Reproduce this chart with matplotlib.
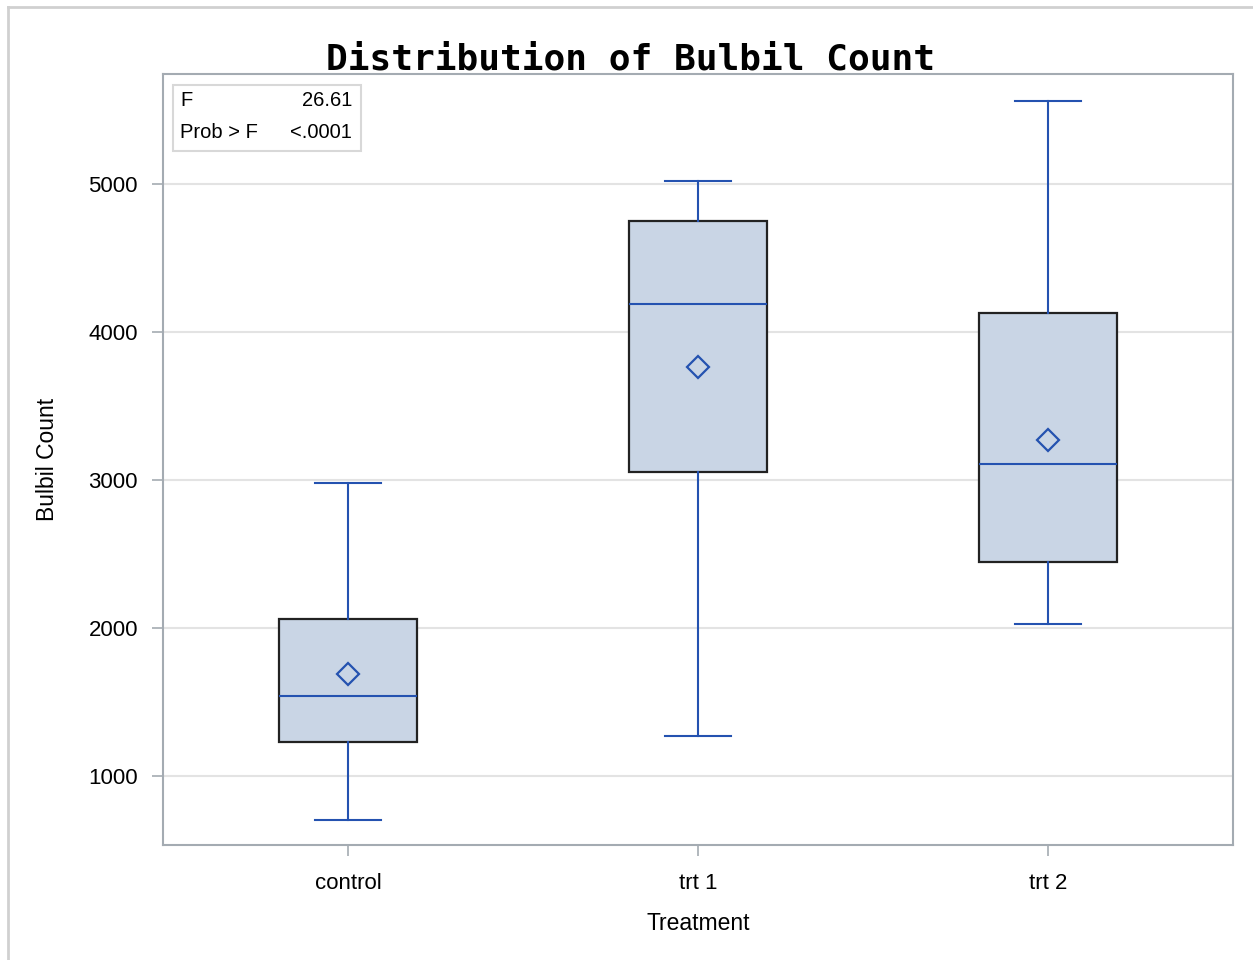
import matplotlib
matplotlib.use('Agg')
import matplotlib.pyplot as plt
from matplotlib.lines import Line2D
from matplotlib.patches import Rectangle

# summary statistics per treatment group
groups = ['control', 'trt 1', 'trt 2']
whislo = [703, 1270, 2027]
q1 = [1230, 3054, 2446]
med = [1541, 4189, 3108]
q3 = [2061, 4750, 4128]
whishi = [2980, 5020, 5561]
means = [1689, 3764, 3270]

f_value = '26.61'
p_value = '<.0001'
yticks = [1000, 2000, 3000, 4000, 5000]

blue = '#2452b0'
fill = '#c9d5e5'
axcol = '#a4abb2'

stats = []
for i in range(len(groups)):
    stats.append({'label': groups[i], 'whislo': whislo[i], 'q1': q1[i], 'med': med[i],
                  'q3': q3[i], 'whishi': whishi[i], 'mean': means[i], 'fliers': []})

fig = plt.figure(figsize=(12.53, 9.6), dpi=100)
ax = fig.add_axes([163/1253, 1-845/960, (1233-163)/1253, (845-74)/960])

ax.bxp(stats, positions=range(len(groups)), widths=0.394, showmeans=True, patch_artist=True,
       boxprops=dict(facecolor=fill, edgecolor='#222222', linewidth=1.6),
       medianprops=dict(color=blue, linewidth=1.5),
       whiskerprops=dict(color=blue, linewidth=1.5),
       capprops=dict(color=blue, linewidth=1.5), capwidths=0.19,
       meanprops=dict(marker='D', markersize=11, markerfacecolor='none',
                      markeredgecolor=blue, markeredgewidth=1.6),
       zorder=3)

ax.set_xlim(-0.529, 2.529)
ax.set_ylim(534, 5743)
ax.set_yticks(yticks)
ax.set_xticks(range(len(groups)))
ax.set_xticklabels(groups)
ax.grid(axis='y', color='#e3e3e3', linewidth=1.5, zorder=0)
ax.set_axisbelow(True)
for s in ax.spines.values():
    s.set_color(axcol)
    s.set_linewidth(1.5)
ax.tick_params(colors=axcol, labelcolor='black', length=8, width=1.2, labelsize=16)
ax.tick_params(axis='x', pad=12)
ax.tick_params(axis='y', pad=10)
for lab in ax.get_xticklabels() + ax.get_yticklabels():
    lab.set_family('Liberation Sans')

ax.set_xlabel('Treatment', family='Liberation Sans', fontsize=16.5, labelpad=13)
ax.set_ylabel('Bulbil Count', family='Liberation Sans', fontsize=16.5, labelpad=21)

fig.text(631/1253, 1-59/960, 'Distribution of Bulbil Count', family='DejaVu Sans Mono',
         weight='bold', fontsize=26, ha='center', va='center')

# F statistic inset
inset = Rectangle((173/1253, 1-151/960), (361-173)/1253, (151-85)/960, transform=fig.transFigure,
                  facecolor='white', edgecolor='#d8d8d8', linewidth=1.5, zorder=5)
fig.add_artist(inset)
fig.text(180/1253, 1-100/960, 'F', family='Liberation Sans', fontsize=14.5, va='center', zorder=6)
fig.text(352/1253, 1-100/960, f_value, family='Liberation Sans', fontsize=14.5, va='center', ha='right', zorder=6)
fig.text(180/1253, 1-132/960, 'Prob > F', family='Liberation Sans', fontsize=14.5, va='center', zorder=6)
fig.text(352/1253, 1-132/960, p_value, family='Liberation Sans', fontsize=14.5, va='center', ha='right', zorder=6)

# outer frame
fig.add_artist(Line2D([8/1253, 8/1253], [0, 1-7/960], transform=fig.transFigure, color='#d0d0d0', linewidth=2))
fig.add_artist(Line2D([8/1253, 1], [1-7/960, 1-7/960], transform=fig.transFigure, color='#d0d0d0', linewidth=2))

fig.savefig('out.png', dpi=100)
